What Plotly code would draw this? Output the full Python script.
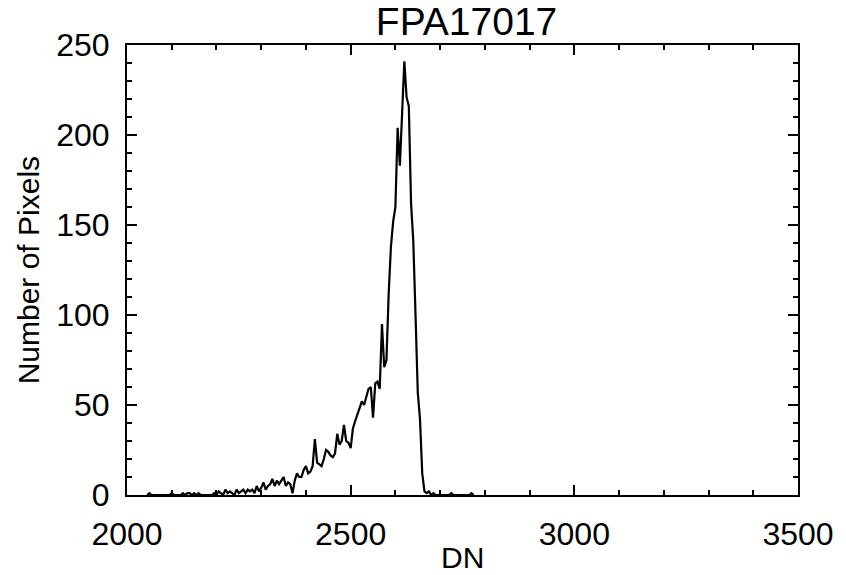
import plotly.graph_objects as go

# Histogram bin positions (DN) and counts (Number of Pixels)
dn = [2045, 2050, 2055, 2060, 2065, 2070, 2075, 2080, 2085, 2090, 2095,
      2100, 2105, 2110, 2115, 2120, 2125, 2130, 2135, 2140, 2145,
      2150, 2155, 2160, 2165, 2170, 2175, 2180, 2185, 2190, 2195,
      2200, 2205, 2210, 2215, 2220, 2225, 2230, 2235, 2240, 2245,
      2250, 2255, 2260, 2265, 2270, 2275, 2280, 2285, 2290, 2295,
      2300, 2305, 2310, 2315, 2320, 2325, 2330, 2335, 2340, 2345,
      2350, 2355, 2360, 2365, 2370, 2375, 2380, 2385, 2390, 2395,
      2400, 2405, 2410, 2415, 2420, 2425, 2430, 2435, 2440, 2445,
      2450, 2455, 2460, 2465, 2470, 2475, 2480, 2485, 2490, 2495,
      2500, 2505, 2510, 2515, 2520, 2525, 2530, 2535, 2540, 2545,
      2550, 2555, 2560, 2565, 2570, 2575, 2580, 2585, 2590, 2595,
      2600, 2605, 2610, 2615, 2620, 2625, 2630, 2635, 2640, 2645,
      2650, 2655, 2660, 2665, 2670, 2675, 2680, 2685, 2690, 2695,
      2700, 2705, 2710, 2715, 2720, 2725, 2730, 2735, 2740, 2745,
      2750, 2755, 2760, 2765, 2770, 2775]
counts = [0, 1, 0, 0, 0, 0, 0, 0, 0, 0, 0,
          1, 0, 0, 0, 0, 1, 0, 1, 1, 0,
          1, 0, 1, 0, 0, 0, 0, 0, 0, 1,
          0, 2, 1, 0, 3, 1, 2, 1, 0, 3,
          1, 2, 3, 1, 3, 2, 3, 1, 5, 2,
          4, 7, 3, 5, 6, 9, 5, 8, 6, 8,
          10, 5, 7, 6, 1, 8, 12, 10, 10, 14,
          16, 12, 13, 16, 31, 18, 17, 16, 20, 25,
          24, 22, 21, 23, 34, 28, 30, 39, 30, 29,
          26, 37, 41, 45, 49, 52, 50, 54, 59, 60,
          43, 62, 63, 59, 95, 71, 75, 112, 138, 152,
          160, 204, 183, 212, 241, 221, 216, 162, 141, 100,
          57, 42, 12, 2, 1, 2, 0, 1, 0, 0,
          0, 0, 0, 0, 0, 1, 0, 0, 0, 0,
          0, 0, 0, 0, 1, 0]

title_text = "FPA17017"
x_title = "DN"
y_title = "Number of Pixels"
x_ticks = [2000, 2500, 3000, 3500]
y_ticks = [0, 50, 100, 150, 200, 250]

FONT = "Liberation Sans, Arial, Helvetica, sans-serif"

fig = go.Figure()
fig.add_trace(go.Scatter(x=dn, y=counts, mode="lines",
                         line=dict(color="black", width=2.2),
                         showlegend=False, hoverinfo="skip"))

axis_common = dict(
    showgrid=False, zeroline=False, showline=True, linecolor="black",
    linewidth=2, mirror="allticks", ticks="inside", tickcolor="black",
    tickwidth=2, ticklen=10,
    tickfont=dict(family=FONT, size=32, color="black"),
)

fig.update_xaxes(range=[2000, 3500], tickvals=x_ticks,
                 ticktext=[str(v) for v in x_ticks],
                 minor=dict(dtick=100, ticks="inside", ticklen=5,
                            tickwidth=2, tickcolor="black"),
                 ticklabelstandoff=10,
                 **axis_common)
fig.update_yaxes(range=[0, 250], tickvals=y_ticks,
                 ticktext=[str(v) for v in y_ticks],
                 minor=dict(dtick=10, ticks="inside", ticklen=5,
                            tickwidth=2, tickcolor="black"),
                 ticklabelstandoff=9,
                 **axis_common)

fig.update_layout(
    width=846, height=575,
    margin=dict(l=127, r=40, t=45, b=80, pad=0),
    paper_bgcolor="white", plot_bgcolor="white",
    title=dict(text=title_text, x=0.5515, xanchor="center",
               y=1 - 21 / 575, yanchor="middle", yref="container",
               font=dict(family=FONT, size=39, color="black")),
    annotations=[
        dict(text=x_title, xref="paper", yref="paper", x=0.5, y=-0.138,
             xanchor="center", yanchor="middle", showarrow=False,
             font=dict(family=FONT, size=30, color="black")),
        dict(text=y_title, xref="paper", yref="paper", x=-0.147, y=0.5,
             xanchor="center", yanchor="middle", textangle=-90,
             showarrow=False,
             font=dict(family=FONT, size=30, color="black")),
    ],
)

fig.write_html("out.html")
